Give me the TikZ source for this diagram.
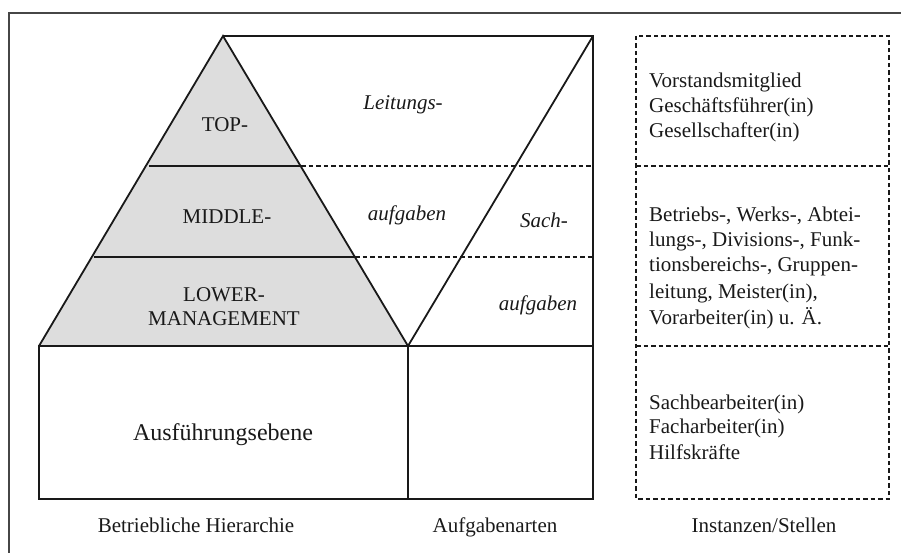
\documentclass[tikz,border=0pt]{standalone}
\usepackage{fontspec}
\setmainfont{Liberation Serif}
\definecolor{pyrfill}{RGB}{221,221,221}
\definecolor{inkc}{RGB}{25,25,25}
\definecolor{framec}{RGB}{70,70,70}
\begin{document}
\begin{tikzpicture}[x=1pt,y=-1pt,
  solidline/.style={draw=inkc,line width=1.8pt},
  dashline/.style={draw=inkc,line width=1.5pt,dash pattern=on 4.5pt off 3pt},
  lbl/.style={text=inkc,font=\fontsize{21}{25}\selectfont,inner sep=0pt,anchor=base},
  ilbl/.style={lbl,font=\fontsize{21}{25}\selectfont\itshape},
  rlbl/.style={lbl,anchor=base west}]
\useasboundingbox (0,0) rectangle (901,553);
% outer frame (only top and left visible)
\draw[framec,line width=1.7pt] (9,553) -- (9,13) -- (901,13);
% pyramid
\coordinate (apex) at (223,36);
\coordinate (bl) at (39,346);
\coordinate (br) at (408,346);
\fill[pyrfill] (apex) -- (bl) -- (br) -- cycle;
\draw[solidline] (bl) -- (apex) -- (br);
\draw[solidline] (149,166) -- (301,166);
\draw[solidline] (94,257) -- (355,257);
% bottom block
\draw[solidline] (bl) rectangle (593,499);
\draw[solidline] (br) -- (408,499);
% Aufgabenarten area
\coordinate (tr) at (593,36);
\draw[solidline] (apex) -- (tr) -- (593,346);
\draw[solidline] (tr) -- (br);
\draw[dashline] (301,166) -- (593,166);
\draw[dashline] (355,257) -- (593,257);
\draw[dashline] (br) -- (593,346);
% Instanzen box
\draw[dashline] (636,36) rectangle (889,499);
\draw[dashline] (636,166) -- (889,166);
\draw[dashline] (636,346) -- (889,346);
% pyramid labels
\node[lbl] (top) at (225,132) {TOP-};
\node[lbl] (mid) at (227,224) {MIDDLE-};
\node[lbl] (low1) at (224,301) {LOWER-};
\node[lbl] (low2) at (224,325) {MANAGEMENT};
\node[lbl,font=\fontsize{24}{28}\selectfont] (ausf) at (223,440) {Ausführungsebene};
% task labels
\node[ilbl] (leit) at (403,110) {Leitungs-};
\node[ilbl] (aufg1) at (407,221) {aufgaben};
\node[ilbl] (sach) at (544,227) {Sach-};
\node[ilbl] (aufg2) at (538,310) {aufgaben};
% right box
\node[rlbl] (r1) at (649,88) {Vorstandsmitglied};
\node[rlbl] (r2) at (649,113) {Geschäftsführer(in)};
\node[rlbl] (r3) at (649,138) {Gesellschafter(in)};
\node[rlbl] (r4) at (649,222) {Betriebs-, Werks-, Abtei-};
\node[rlbl] (r5) at (649,246) {lungs-, Divisions-, Funk-};
\node[rlbl] (r6) at (649,271) {tionsbereichs-, Gruppen-};
\node[rlbl] (r7) at (649,298) {leitung, Meister(in),};
\node[rlbl] (r8) at (649,324) {Vorarbeiter(in) u. Ä.};
\node[rlbl] (r9) at (649,409) {Sachbearbeiter(in)};
\node[rlbl] (r10) at (649,433) {Facharbeiter(in)};
\node[rlbl] (r11) at (649,459) {Hilfskräfte};
% captions
\node[lbl] (cap1) at (196,532) {Betriebliche Hierarchie};
\node[lbl] (cap2) at (495,532) {Aufgabenarten};
\node[lbl] (cap3) at (764,532) {Instanzen/Stellen};
\end{tikzpicture}
\end{document}
